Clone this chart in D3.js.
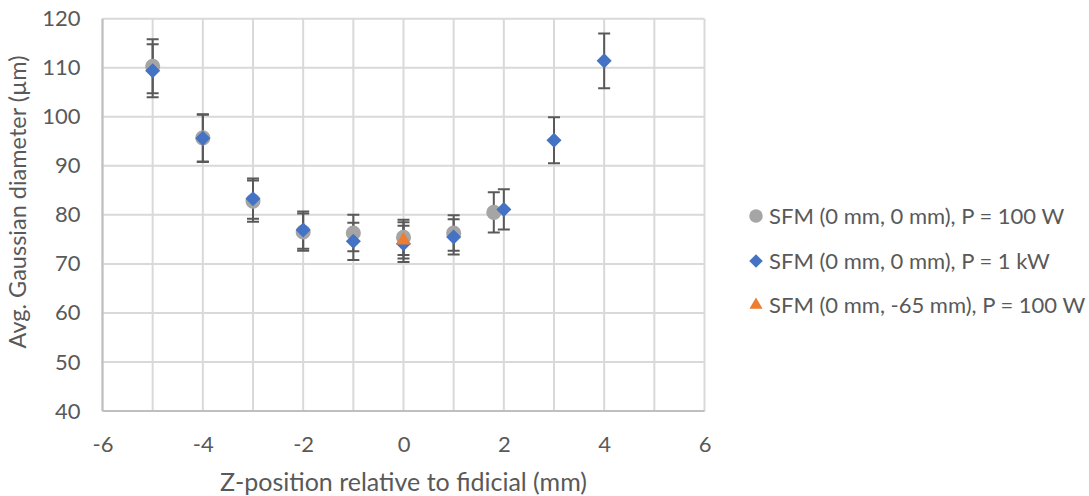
<!DOCTYPE html>
<html lang="en">
<head>
<meta charset="UTF-8">
<title>Avg. Gaussian diameter vs Z-position</title>
<script src="https://d3js.org/d3.v7.min.js"></script>
<style>
    body { margin: 0; background: #fff; font-family: Lato, sans-serif; }
    svg { display: block; }
    text { fill: #595959; }
</style>
</head>
<body>
<div id="chart"></div>
<script>
    // SFM (0 mm, 0 mm), P = 100 W
    const grayX   = [-5, -4, -3, -2, -1, 0, 1, 1.8];
    const grayY   = [110.3, 95.7, 82.8, 76.5, 76.3, 75.4, 76.3, 80.5];
    const grayErr = [5.5, 4.8, 4.2, 3.8, 3.7, 3.6, 3.6, 4.1];

    // SFM (0 mm, 0 mm), P = 1 kW
    const blueX   = [-5, -4, -3, -2, -1, 0, 1, 2, 3, 4];
    const blueY   = [109.4, 95.6, 83.3, 76.9, 74.6, 74.1, 75.5, 81.1, 95.2, 111.4];
    const blueErr = [5.4, 4.8, 4.1, 3.8, 3.8, 3.7, 3.6, 4.1, 4.7, 5.6];

    // SFM (0 mm, -65 mm), P = 100 W
    const orangeX   = [0];
    const orangeY   = [74.8];
    const orangeErr = [3.7];

    const xTicks = [-6, -4, -2, 0, 2, 4, 6];
    const yTicks = [40, 50, 60, 70, 80, 90, 100, 110, 120];
    const xGrid = [-6, -5, -4, -3, -2, -1, 0, 1, 2, 3, 4, 5, 6];

    const legendLabels = [
        "SFM (0 mm, 0 mm), P = 100 W",
        "SFM (0 mm, 0 mm), P = 1 kW",
        "SFM (0 mm, -65 mm), P = 100 W"
    ];

    const width = 1089, height = 496;
    const margin = { left: 102.5, right: 1089 - 704.5, top: 18.7, bottom: 496 - 411 };

    const svg = d3.select("#chart").append("svg")
        .attr("width", width)
        .attr("height", height);

    const x = d3.scaleLinear().domain([-6, 6]).range([margin.left, width - margin.right]);
    const y = d3.scaleLinear().domain([40, 120]).range([height - margin.bottom, margin.top]);

    // gridlines
    const grid = svg.append("g").attr("stroke", "#d9d9d9").attr("stroke-width", 2);
    grid.selectAll("line.v").data(xGrid).join("line")
        .attr("x1", d => x(d)).attr("x2", d => x(d))
        .attr("y1", y(40)).attr("y2", y(120));
    grid.selectAll("line.h").data(yTicks).join("line")
        .attr("x1", x(-6)).attr("x2", x(6))
        .attr("y1", d => y(d)).attr("y2", d => y(d));

    // axis lines
    svg.append("line").attr("stroke", "#bfbfbf").attr("stroke-width", 2)
        .attr("x1", x(-6)).attr("x2", x(-6)).attr("y1", y(40)).attr("y2", y(120));
    svg.append("line").attr("stroke", "#bfbfbf").attr("stroke-width", 2)
        .attr("x1", x(-6)).attr("x2", x(6)).attr("y1", y(40)).attr("y2", y(40));

    // tick labels (plain hyphen minus, as in the original)
    const xAxis = svg.append("g")
        .attr("transform", `translate(0,${y(40) + 17})`)
        .call(d3.axisBottom(x).tickValues(xTicks).tickFormat(d => String(d)).tickSize(0).tickPadding(8));
    const yAxis = svg.append("g")
        .attr("transform", `translate(${x(-6) - 12},0)`)
        .call(d3.axisLeft(y).tickValues(yTicks).tickFormat(d => String(d)).tickSize(0).tickPadding(10));
    [xAxis, yAxis].forEach(a => {
        a.select(".domain").remove();
        a.selectAll("text").attr("font-family", "Lato").attr("font-size", 22).attr("fill", "#595959");
    });

    // axis titles
    svg.append("text")
        .attr("x", x(0)).attr("y", 491)
        .attr("text-anchor", "middle")
        .attr("font-size", 25)
        .text("Z-position relative to fidicial (mm)");
    svg.append("text")
        .attr("transform", `translate(26,202) rotate(-90)`)
        .attr("text-anchor", "middle")
        .attr("font-size", 23.5)
        .text("Avg. Gaussian diameter (µm)");

    const series = [
        { xs: grayX, ys: grayY, es: grayErr, color: "#a5a5a5", shape: d3.symbolCircle, size: 180 },
        { xs: blueX, ys: blueY, es: blueErr, color: "#4472c4", shape: d3.symbolDiamond2, size: 145 },
        { xs: orangeX, ys: orangeY, es: orangeErr, color: "#ed7d31", shape: d3.symbolTriangle2, size: 155 }
    ];

    // error bars
    const errG = svg.append("g").attr("stroke", "#595959").attr("stroke-width", 2).attr("fill", "none");
    series.forEach(s => {
        const pts = s.xs.map((v, i) => ({ x: v, y: s.ys[i], e: s.es[i] }));
        const g = errG.append("g");
        g.selectAll("path").data(pts).join("path")
            .attr("d", d => {
                const cx = x(d.x), t = y(d.y + d.e), b = y(d.y - d.e);
                return `M${cx},${t}V${b}M${cx - 6},${t}H${cx + 6}M${cx - 6},${b}H${cx + 6}`;
            });
    });

    // markers
    series.forEach(s => {
        const pts = s.xs.map((v, i) => ({ x: v, y: s.ys[i] }));
        svg.append("g").selectAll("path").data(pts).join("path")
            .attr("transform", d => `translate(${x(d.x)},${y(d.y)})`)
            .attr("d", d3.symbol().type(s.shape).size(s.size))
            .attr("fill", s.color);
    });

    // legend
    const legend = svg.append("g").attr("transform", "translate(756,0)");
    const legendY = [216, 261, 305];
    series.forEach((s, i) => {
        legend.append("path")
            .attr("transform", `translate(0,${legendY[i]})`)
            .attr("d", d3.symbol().type(s.shape).size(s.size * 0.8))
            .attr("fill", s.color);
        legend.append("text")
            .attr("x", 13).attr("y", legendY[i])
            .attr("dy", "0.35em")
            .attr("font-size", 22)
            .text(legendLabels[i]);
    });
</script>
</body>
</html>
